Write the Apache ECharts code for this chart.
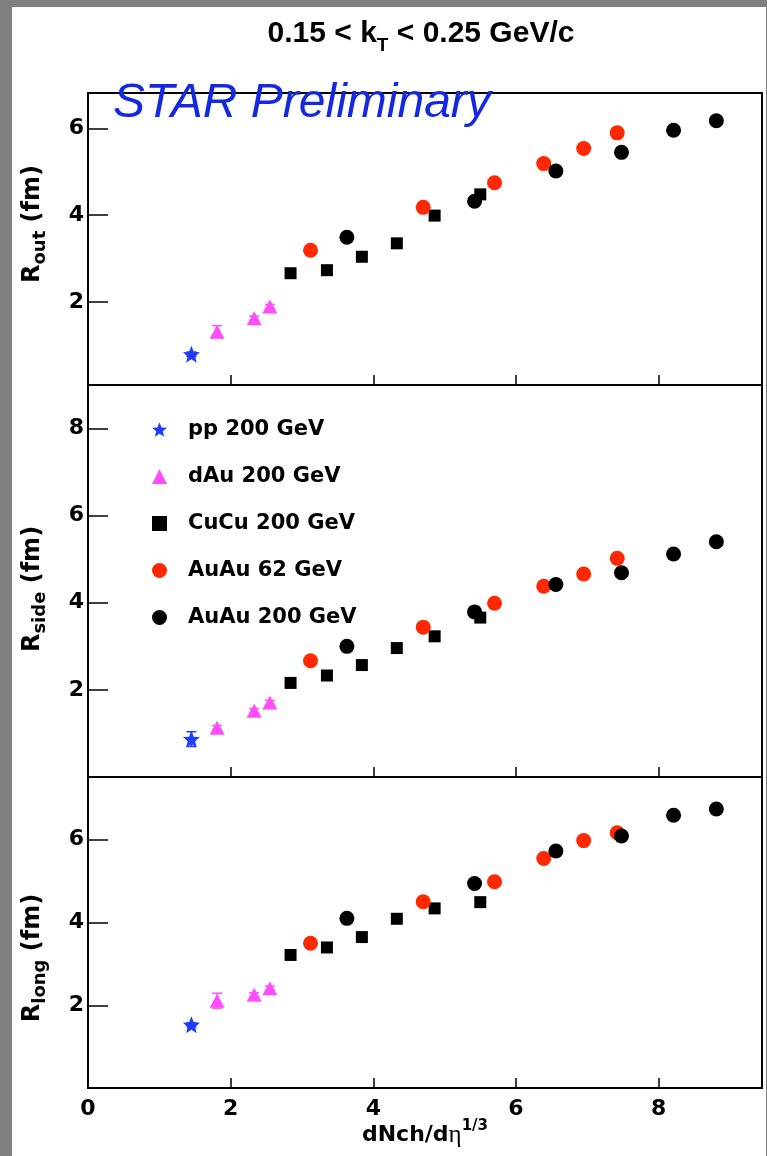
<!DOCTYPE html>
<html><head><meta charset="utf-8">
<script src="https://cdn.jsdelivr.net/npm/echarts@6/dist/echarts.min.js"></script>
<style>html,body{margin:0;padding:0;background:#808080}#c{width:767px;height:1156px}</style>
</head><body><div id="c"></div>
<script>
// ---- data ----
const names = ['pp 200 GeV', 'dAu 200 GeV', 'CuCu 200 GeV', 'AuAu 62 GeV', 'AuAu 200 GeV'];
const xTickValues = [0, 2, 4, 6, 8];
const yTicksOut = [2, 4, 6];
const yTicksSide = [2, 4, 6, 8];
const yTicksLong = [2, 4, 6];

const ppX = [1.45];
const dAuX = [1.81, 2.33, 2.55];
const cuX = [2.84, 3.35, 3.84, 4.33, 4.86, 5.50];
const au62X = [3.12, 4.70, 5.70, 6.39, 6.95, 7.42];
const au200X = [3.63, 5.42, 6.56, 7.48, 8.21, 8.81];

const ppOut = [0.79];
const dAuOut = [1.31, 1.62, 1.89];
const cuOut = [2.66, 2.73, 3.04, 3.35, 3.99, 4.48];
const au62Out = [3.19, 4.18, 4.75, 5.19, 5.54, 5.90];
const au200Out = [3.49, 4.32, 5.02, 5.45, 5.96, 6.18];

const ppSide = [0.87];
const dAuSide = [1.13, 1.52, 1.71];
const cuSide = [2.16, 2.33, 2.57, 2.96, 3.23, 3.66];
const au62Side = [2.67, 3.44, 3.99, 4.38, 4.66, 5.02];
const au200Side = [3.00, 3.79, 4.42, 4.69, 5.12, 5.40];

const ppLong = [1.54];
const dAuLong = [2.12, 2.26, 2.42];
const cuLong = [3.22, 3.40, 3.65, 4.09, 4.34, 4.49];
const au62Long = [3.50, 4.50, 4.98, 5.54, 5.97, 6.16];
const au200Long = [4.10, 4.94, 5.72, 6.08, 6.58, 6.73];

const ppOutErr = [0.05], ppSideErr = [0.17], ppLongErr = [0.05];
const dAuOutErr = [0.14, 0.05, 0.05], dAuSideErr = [0.05, 0.05, 0.05], dAuLongErr = [0.18, 0.05, 0.05];

// ---- styling ----
const BOLD = 'DejaVu Sans';
const colors = ['#1f3dff', '#ff4dff', '#000000', '#ff2800', '#000000'];
const starPath = 'path://M50 0 L62.93 32.2 L97.55 34.55 L70.92 56.8 L79.39 90.45 L50 72 L20.61 90.45 L29.08 56.8 L2.45 34.55 L37.07 32.2 Z';
const symbols = [starPath, 'triangle', 'rect', 'circle', 'circle'];
const sizes = [17, [15, 14], 12, 15, 15];

const panels = [
  {top: 93, height: 292, min: 0.08, max: 6.82, ticks: yTicksOut, ys: [ppOut, dAuOut, cuOut, au62Out, au200Out], errs: [ppOutErr, dAuOutErr]},
  {top: 385, height: 392, min: 0, max: 9.0, ticks: yTicksSide, ys: [ppSide, dAuSide, cuSide, au62Side, au200Side], errs: [ppSideErr, dAuSideErr]},
  {top: 777, height: 311, min: 0.02, max: 7.5, ticks: yTicksLong, ys: [ppLong, dAuLong, cuLong, au62Long, au200Long], errs: [ppLongErr, dAuLongErr]}
];
const xs = [ppX, dAuX, cuX, au62X, au200X];

const grids = [], xAxes = [], yAxes = [], series = [];
panels.forEach((p, i) => {
  grids.push({left: 88, width: 674, top: p.top, height: p.height, show: true, borderColor: '#000', borderWidth: 2,
    backgroundColor: '#fff', containLabel: false, outerBoundsMode: 'none'});
  xAxes.push({type: 'value', gridIndex: i, min: 0, max: 9.45, interval: 2,
    axisLine: {show: true, onZero: false, lineStyle: {color: '#000', width: 2}},
    axisTick: {show: true, inside: true, length: 10, customValues: xTickValues, lineStyle: {color: '#000', width: 1.5}},
    axisLabel: {show: i === 2, margin: 10, customValues: xTickValues, color: '#000', fontFamily: BOLD, fontWeight: 'bold', fontSize: 22},
    splitLine: {show: false}});
  yAxes.push({type: 'value', gridIndex: i, min: p.min, max: p.max,
    axisLine: {show: true, onZero: false, lineStyle: {color: '#000', width: 2}},
    axisTick: {show: true, inside: true, length: 20, customValues: p.ticks, lineStyle: {color: '#000', width: 1.5}},
    axisLabel: {show: true, margin: 4, customValues: p.ticks, color: '#000', fontFamily: BOLD, fontWeight: 'bold', fontSize: 22},
    splitLine: {show: false}});
  p.ys.forEach((ys, k) => {
    series.push({type: 'scatter', name: names[k], xAxisIndex: i, yAxisIndex: i,
      data: xs[k].map((x, j) => [x, ys[j]]), symbol: symbols[k], symbolSize: sizes[k],
      itemStyle: {color: colors[k], opacity: 1}, z: 3 + k, silent: true, emphasis: {disabled: true}});
  });
  p.errs.forEach((es, k) => {
    const col = colors[k];
    series.push({type: 'custom', name: 'err' + k, xAxisIndex: i, yAxisIndex: i, silent: true, z: 2,
      data: xs[k].map((x, j) => [x, p.ys[k][j], es[j]]),
      renderItem: (params, api) => {
        const x = api.value(0), y = api.value(1), e = api.value(2);
        const t = api.coord([x, y + e]), b = api.coord([x, y - e]);
        const w = 5, st = {stroke: col, lineWidth: 1.5};
        return {type: 'group', children: [
          {type: 'line', shape: {x1: t[0], y1: t[1], x2: b[0], y2: b[1]}, style: st},
          {type: 'line', shape: {x1: t[0] - w, y1: t[1], x2: t[0] + w, y2: t[1]}, style: st},
          {type: 'line', shape: {x1: b[0] - w, y1: b[1], x2: b[0] + w, y2: b[1]}, style: st}
        ]};
      }});
  });
});

const yTitle = (sub, cy) => ({
  type: 'text', x: 21, y: cy, rotation: Math.PI / 2, silent: true,
  style: {text: '{m|R}{s|' + sub + '}{m| (fm)}', align: 'center', verticalAlign: 'top',
    rich: {
      m: {fontFamily: BOLD, fontWeight: 'bold', fontSize: 24, lineHeight: 24, verticalAlign: 'top', fill: '#000'},
      s: {fontFamily: BOLD, fontWeight: 'bold', fontSize: 18, lineHeight: 38, verticalAlign: 'middle', fill: '#000'}
    }}
});

const option = {
  backgroundColor: '#808080',
  animation: false,
  grid: grids, xAxis: xAxes, yAxis: yAxes, series: series,
  legend: {orient: 'vertical', left: 147, top: 414, itemWidth: 15, itemHeight: 15, itemGap: 26,
    data: names, selectedMode: false,
    textStyle: {fontFamily: BOLD, fontWeight: 'bold', fontSize: 21, color: '#000', lineHeight: 16, padding: [0, 0, 0, 16]}},
  graphic: [
    {type: 'rect', z: -100, silent: true, shape: {x: 12, y: 7, width: 754, height: 1149}, style: {fill: '#fff'}},
    {type: 'text', x: 421, y: 19, silent: true,
      style: {text: '{m|0.15 < k}{s|T}{m| < 0.25 GeV/c}', align: 'center', verticalAlign: 'top',
        rich: {
          m: {fontFamily: 'Liberation Sans', fontWeight: 'bold', fontSize: 30, lineHeight: 30, verticalAlign: 'top', fill: '#000'},
          s: {fontFamily: 'Liberation Sans', fontWeight: 'bold', fontSize: 19, lineHeight: 54, verticalAlign: 'middle', fill: '#000'}
        }}},
    {type: 'text', x: 113, y: 104, silent: true, z: 10,
      style: {text: 'STAR Preliminary', font: 'italic 48px "Liberation Sans"', fill: '#1428e0', align: 'left', verticalAlign: 'middle'}},
    yTitle('out', 224),
    yTitle('side', 589),
    yTitle('long', 958),
    {type: 'text', x: 425, y: 1119, silent: true,
      style: {text: '{m|dNch/d}{g|η}{p|1/3}', align: 'center', verticalAlign: 'top',
        rich: {
          m: {fontFamily: BOLD, fontWeight: 'bold', fontSize: 22, lineHeight: 32, verticalAlign: 'middle', fill: '#000'},
          g: {fontFamily: 'Liberation Serif', fontSize: 25, lineHeight: 32, verticalAlign: 'middle', fill: '#000'},
          p: {fontFamily: BOLD, fontWeight: 'bold', fontSize: 15, lineHeight: 15, verticalAlign: 'top', fill: '#000'}
        }}}
  ]
};
const chart = echarts.init(document.getElementById('c'), null, {renderer: 'canvas'});
chart.setOption(option);
</script></body></html>
